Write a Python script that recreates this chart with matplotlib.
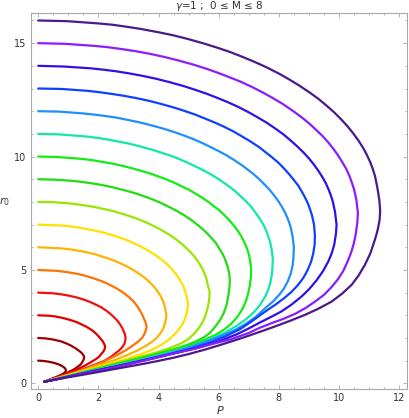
import numpy as np
import matplotlib.pyplot as plt
from matplotlib.ticker import MultipleLocator

# mass values of the 16 curves (gamma = 1)
m_values = [0.5, 1.0, 1.5, 2.0, 2.5, 3.0, 3.5, 4.0, 4.5, 5.0, 5.5, 6.0, 6.5, 7.0, 7.5, 8.0]
colors = ['#8b0000', '#9e0000', '#e00000', '#f01010', '#ff7300', '#ffb300', '#ffe000', '#99e600',
          '#22dd11', '#11ee11', '#10e8a8', '#1e8fff', '#1040ff', '#3010e8', '#8a1cff', '#4b1a8a']

# points, from the top (P=0, r0=2M) round the tip to the common end near the origin
p_05 = [0.0, 0.15, 0.32, 0.5, 0.65, 0.72, 0.78, 0.83, 0.87, 0.9, 0.92, 0.92, 0.91, 0.88, 0.85, 0.8, 0.74, 0.6,
        0.45, 0.32, 0.2]
r_05 = [1.0, 0.99, 0.96, 0.91, 0.85, 0.81, 0.77, 0.73, 0.69, 0.65, 0.6, 0.56, 0.52, 0.48, 0.44, 0.4, 0.36, 0.28,
        0.2, 0.13, 0.07]

p_10 = [0.0, 0.25, 0.5, 0.76, 0.97, 1.08, 1.17, 1.26, 1.33, 1.4, 1.45, 1.49, 1.52, 1.53, 1.51, 1.48, 1.45, 1.4,
        1.33, 1.26, 1.18, 1.0, 0.8, 0.6, 0.4, 0.2]
r_10 = [2.0, 1.98, 1.93, 1.85, 1.74, 1.67, 1.6, 1.53, 1.46, 1.39, 1.33, 1.26, 1.2, 1.12, 1.05, 0.97, 0.9, 0.82,
        0.75, 0.68, 0.61, 0.49, 0.37, 0.26, 0.16, 0.07]

p_15 = [0.0, 0.37, 0.56, 0.75, 0.94, 1.12, 1.28, 1.42, 1.58, 1.72, 1.84, 1.93, 2.01, 2.07, 2.13, 2.17, 2.2, 2.22,
        2.22, 2.2, 2.16, 2.1, 2.02, 1.92, 1.8, 1.55, 1.3, 1.0, 0.7, 0.45, 0.2]
r_15 = [3.0, 2.98, 2.95, 2.9, 2.84, 2.77, 2.7, 2.61, 2.51, 2.4, 2.29, 2.18, 2.07, 1.97, 1.88, 1.8, 1.72, 1.65,
        1.56, 1.48, 1.39, 1.3, 1.17, 1.07, 0.97, 0.78, 0.62, 0.45, 0.3, 0.18, 0.07]

p_20 = [0.0, 0.5, 0.74, 1.0, 1.24, 1.5, 1.7, 1.9, 2.1, 2.27, 2.41, 2.53, 2.64, 2.72, 2.79, 2.84, 2.88, 2.9, 2.9,
        2.88, 2.84, 2.78, 2.7, 2.6, 2.45, 2.2, 1.9, 1.5, 1.0, 0.6, 0.2]
r_20 = [4.0, 3.97, 3.93, 3.87, 3.8, 3.7, 3.6, 3.48, 3.35, 3.2, 3.05, 2.9, 2.75, 2.6, 2.45, 2.3, 2.17, 2.05, 1.93,
        1.8, 1.68, 1.57, 1.46, 1.36, 1.2, 0.99, 0.83, 0.63, 0.42, 0.24, 0.07]

p_25 = [0.0, 0.62, 0.93, 1.25, 1.55, 1.87, 2.12, 2.37, 2.6, 2.83, 3.0, 3.15, 3.27, 3.37, 3.45, 3.51, 3.56, 3.59,
        3.6, 3.58, 3.53, 3.45, 3.33, 3.15, 2.9, 2.6, 2.3, 2.0, 1.5, 1.0, 0.6, 0.2]
r_25 = [5.0, 4.96, 4.91, 4.84, 4.75, 4.62, 4.5, 4.35, 4.19, 4.0, 3.82, 3.64, 3.44, 3.24, 3.05, 2.87, 2.72, 2.6,
        2.48, 2.35, 2.17, 2.0, 1.85, 1.67, 1.45, 1.23, 1.04, 0.85, 0.6, 0.38, 0.22, 0.07]

p_30 = [0.0, 0.75, 1.11, 1.5, 1.86, 2.25, 2.55, 2.85, 3.12, 3.39, 3.6, 3.78, 3.93, 4.05, 4.14, 4.2, 4.23, 4.26,
        4.25, 4.21, 4.15, 4.06, 3.95, 3.8, 3.58, 3.3, 3.0, 2.6, 2.0, 1.5, 1.0, 0.6, 0.2]
r_30 = [6.0, 5.95, 5.9, 5.81, 5.7, 5.54, 5.4, 5.22, 5.03, 4.8, 4.59, 4.36, 4.13, 3.89, 3.66, 3.42, 3.23, 3.05,
        2.85, 2.62, 2.4, 2.2, 2.02, 1.85, 1.65, 1.45, 1.27, 1.05, 0.79, 0.57, 0.37, 0.22, 0.07]

p_35 = [0.0, 0.87, 1.3, 1.75, 2.17, 2.62, 2.97, 3.32, 3.64, 3.96, 4.2, 4.41, 4.58, 4.72, 4.83, 4.9, 4.94, 4.98,
        4.97, 4.93, 4.86, 4.77, 4.65, 4.5, 4.3, 4.05, 3.75, 3.4, 3.0, 2.5, 2.0, 1.5, 1.0, 0.6, 0.2]
r_35 = [7.0, 6.95, 6.88, 6.77, 6.65, 6.47, 6.3, 6.09, 5.87, 5.6, 5.35, 5.09, 4.82, 4.54, 4.27, 4.0, 3.77, 3.55,
        3.3, 3.05, 2.78, 2.55, 2.33, 2.12, 1.88, 1.66, 1.46, 1.28, 1.1, 0.9, 0.72, 0.54, 0.35, 0.21, 0.07]

p_40 = [0.0, 0.48, 1.0, 1.24, 1.48, 1.72, 2.0, 2.24, 2.48, 2.76, 3.0, 3.2, 3.4, 3.6, 3.8, 4.0, 4.16, 4.34, 4.52,
        4.66, 4.8, 4.92, 5.04, 5.14, 5.24, 5.32, 5.4, 5.46, 5.52, 5.56, 5.6, 5.64, 5.7,
        5.69, 5.67, 5.62, 5.55, 5.45, 5.32, 5.17, 5.0, 4.75, 4.35, 3.8, 3.2, 2.6, 2.0, 1.5, 1.0, 0.6, 0.2]
r_40 = [8.0, 7.99, 7.94, 7.9, 7.86, 7.81, 7.74, 7.67, 7.6, 7.49, 7.39, 7.3, 7.2, 7.09, 6.96, 6.83, 6.71, 6.57,
        6.41, 6.27, 6.12, 5.97, 5.82, 5.67, 5.51, 5.36, 5.19, 5.05, 4.87, 4.74, 4.57, 4.31, 4.05,
        3.78, 3.55, 3.25, 2.95, 2.66, 2.4, 2.17, 1.96, 1.76, 1.54, 1.31, 1.11, 0.9, 0.69, 0.52, 0.34, 0.2, 0.07]

p_45 = [0.0, 0.54, 1.12, 1.4, 1.66, 1.93, 2.25, 2.52, 2.79, 3.1, 3.37, 3.6, 3.82, 4.05, 4.27, 4.5, 4.68, 4.88,
        5.08, 5.24, 5.4, 5.53, 5.67, 5.78, 5.9, 5.98, 6.07, 6.14, 6.21, 6.25, 6.3, 6.35, 6.37,
        6.36, 6.32, 6.26, 6.17, 6.05, 5.9, 5.71, 5.5, 5.25, 4.95, 4.6, 4.2, 3.8, 3.2, 2.6, 2.0, 1.5, 1.0, 0.6, 0.2]
r_45 = [9.0, 8.98, 8.93, 8.89, 8.84, 8.79, 8.71, 8.63, 8.54, 8.43, 8.32, 8.21, 8.1, 7.97, 7.83, 7.68, 7.55, 7.39,
        7.21, 7.05, 6.88, 6.72, 6.54, 6.38, 6.2, 6.03, 5.84, 5.68, 5.48, 5.33, 5.13, 4.85, 4.6,
        4.25, 3.85, 3.45, 3.1, 2.8, 2.52, 2.22, 2.02, 1.85, 1.69, 1.54, 1.39, 1.25, 1.05, 0.85, 0.65, 0.49, 0.32,
        0.19, 0.07]

p_50 = [0.0, 0.6, 1.25, 1.55, 1.85, 2.15, 2.5, 2.8, 3.1, 3.45, 3.75, 4.0, 4.25, 4.5, 4.75, 5.0, 5.2, 5.42, 5.65,
        5.82, 6.0, 6.15, 6.3, 6.42, 6.55, 6.65, 6.75, 6.82, 6.9, 6.95, 7.0, 7.05, 7.08,
        7.07, 7.04, 6.98, 6.9, 6.78, 6.62, 6.42, 6.18, 5.9, 5.5, 5.0, 4.4, 3.8, 3.2, 2.6, 2.0, 1.5, 1.0, 0.6, 0.2]
r_50 = [10.0, 9.98, 9.92, 9.88, 9.83, 9.76, 9.68, 9.59, 9.49, 9.36, 9.24, 9.12, 9.0, 8.86, 8.7, 8.54, 8.39, 8.21,
        8.01, 7.83, 7.65, 7.47, 7.27, 7.09, 6.88, 6.7, 6.49, 6.31, 6.09, 5.92, 5.71, 5.39, 5.0,
        4.68, 4.35, 3.95, 3.6, 3.25, 2.93, 2.63, 2.37, 2.14, 1.9, 1.64, 1.41, 1.19, 0.99, 0.81, 0.62, 0.47, 0.31,
        0.19, 0.07]

p_55 = [0.0, 0.66, 1.37, 1.7, 2.03, 2.36, 2.75, 3.08, 3.41, 3.79, 4.12, 4.4, 4.67, 4.95, 5.22, 5.5, 5.72, 5.97,
        6.21, 6.41, 6.6, 6.76, 6.93, 7.07, 7.2, 7.31, 7.42, 7.51, 7.59, 7.64, 7.7, 7.76, 7.8,
        7.79, 7.77, 7.72, 7.64, 7.53, 7.38, 7.18, 6.93, 6.62, 6.22, 5.75, 5.2, 4.6, 4.0, 3.4, 2.8, 2.2, 1.6, 1.0,
        0.6, 0.2]
r_55 = [11.0, 10.98, 10.91, 10.87, 10.81, 10.74, 10.64, 10.55, 10.44, 10.3, 10.16, 10.04, 9.9, 9.74, 9.57, 9.39,
        9.23, 9.03, 8.81, 8.62, 8.41, 8.21, 8.0, 7.8, 7.57, 7.37, 7.14, 6.94, 6.7, 6.51, 6.28, 5.92, 5.5,
        5.15, 4.8, 4.45, 4.1, 3.78, 3.47, 3.15, 2.85, 2.55, 2.24, 1.96, 1.68, 1.44, 1.23, 1.03, 0.85, 0.67, 0.49,
        0.31, 0.18, 0.07]

p_60 = [0.0, 0.72, 1.5, 1.86, 2.22, 2.58, 3.0, 3.36, 3.72, 4.14, 4.5, 4.8, 5.1, 5.4, 5.7, 6.0, 6.24, 6.51, 6.78,
        6.99, 7.2, 7.38, 7.56, 7.71, 7.86, 7.98, 8.1, 8.19, 8.28, 8.34, 8.4, 8.46, 8.5,
        8.49, 8.46, 8.4, 8.3, 8.17, 8.0, 7.8, 7.55, 7.25, 6.9, 6.5, 6.0, 5.5, 5.0, 4.4, 3.8, 3.2, 2.6, 2.0, 1.5,
        1.0, 0.6, 0.2]
r_60 = [12.0, 11.98, 11.9, 11.85, 11.79, 11.72, 11.61, 11.51, 11.39, 11.24, 11.09, 10.95, 10.8, 10.63, 10.44,
        10.24, 10.07, 9.85, 9.61, 9.4, 9.18, 8.96, 8.72, 8.51, 8.26, 8.04, 7.79, 7.57, 7.31, 7.11, 6.85, 6.46, 6.0,
        5.6, 5.2, 4.85, 4.5, 4.18, 3.88, 3.6, 3.32, 2.95, 2.62, 2.32, 2.05, 1.8, 1.57, 1.34, 1.13, 0.94, 0.76,
        0.59, 0.45, 0.3, 0.18, 0.07]

p_65 = [0.0, 0.78, 1.62, 2.02, 2.4, 2.8, 3.25, 3.64, 4.03, 4.49, 4.87, 5.2, 5.52, 5.85, 6.17, 6.5, 6.76, 7.05,
        7.35, 7.57, 7.8, 8.0, 8.19, 8.35, 8.51, 8.65, 8.77, 8.87, 8.97, 9.03, 9.1, 9.17, 9.2,
        9.19, 9.14, 9.07, 8.96, 8.82, 8.64, 8.42, 8.18, 7.9, 7.54, 7.15, 6.7, 6.2, 5.7, 5.1, 4.5, 3.9, 3.3, 2.7,
        2.0, 1.5, 1.0, 0.6, 0.2]
r_65 = [13.0, 12.98, 12.9, 12.84, 12.77, 12.69, 12.58, 12.47, 12.34, 12.17, 12.01, 11.86, 11.69, 11.51, 11.32,
        11.1, 10.9, 10.67, 10.41, 10.18, 9.94, 9.71, 9.45, 9.21, 8.95, 8.71, 8.44, 8.2, 7.92, 7.7, 7.42, 7.0, 6.5,
        6.1, 5.7, 5.35, 5.0, 4.66, 4.34, 4.03, 3.76, 3.48, 3.16, 2.78, 2.38, 2.06, 1.8, 1.53, 1.32, 1.12, 0.94,
        0.77, 0.59, 0.45, 0.3, 0.18, 0.07]

p_70 = [0.0, 0.84, 1.75, 2.17, 2.59, 3.01, 3.5, 3.92, 4.34, 4.83, 5.25, 5.6, 5.95, 6.3, 6.65, 7.0, 7.28, 7.6,
        7.91, 8.16, 8.4, 8.61, 8.82, 9.0, 9.17, 9.31, 9.45, 9.56, 9.66, 9.73, 9.8, 9.87, 9.92,
        9.9, 9.84, 9.75, 9.64, 9.47, 9.26, 9.02, 8.75, 8.43, 8.1, 7.76, 7.4, 7.0, 6.6, 6.0, 5.4, 4.7, 4.0, 3.3,
        2.6, 2.0, 1.5, 1.0, 0.6, 0.2]
r_70 = [14.0, 13.97, 13.89, 13.83, 13.76, 13.67, 13.55, 13.43, 13.29, 13.11, 12.93, 12.77, 12.59, 12.4, 12.19,
        11.95, 11.74, 11.49, 11.21, 10.97, 10.7, 10.45, 10.18, 9.92, 9.64, 9.38, 9.09, 8.83, 8.53, 8.29, 7.99,
        7.54, 7.0,
        6.6, 6.1, 5.7, 5.36, 4.95, 4.55, 4.17, 3.82, 3.48, 3.18, 2.94, 2.7, 2.42, 2.16, 1.85, 1.6, 1.38, 1.17,
        0.96, 0.75, 0.58, 0.44, 0.29, 0.17, 0.07]

p_75 = [0.0, 0.9, 1.87, 2.32, 2.77, 3.22, 3.75, 4.2, 4.65, 5.17, 5.62, 6.0, 6.37, 6.75, 7.12, 7.5, 7.8, 8.14,
        8.47, 8.74, 9.0, 9.22, 9.45, 9.64, 9.82, 9.97, 10.12, 10.24, 10.35, 10.42, 10.5, 10.58, 10.63,
        10.61, 10.56, 10.49, 10.4, 10.28, 10.14, 9.96, 9.75, 9.5, 9.2, 8.9, 8.55, 8.15, 7.75, 7.35, 7.0, 6.4,
        5.8, 5.1, 4.4, 3.7, 3.0, 2.4, 1.8, 1.3, 0.8, 0.2]
r_75 = [15.0, 14.97, 14.88, 14.82, 14.74, 14.65, 14.52, 14.39, 14.24, 14.05, 13.86, 13.68, 13.49, 13.29, 13.06,
        12.8, 12.58, 12.31, 12.01, 11.75, 11.47, 11.2, 10.91, 10.63, 10.33, 10.05, 9.73, 9.46, 9.14, 8.88, 8.56,
        8.08, 7.5,
        7.1, 6.6, 6.15, 5.75, 5.35, 4.95, 4.58, 4.24, 3.9, 3.6, 3.33, 3.07, 2.84, 2.65, 2.44, 2.22, 1.94, 1.74,
        1.49, 1.28, 1.06, 0.84, 0.66, 0.5, 0.37, 0.23, 0.07]

p_80 = [0.0, 0.96, 2.0, 2.48, 2.96, 3.44, 4.0, 4.48, 4.96, 5.52, 6.0, 6.4, 6.8, 7.2, 7.6, 8.0, 8.32, 8.68, 9.04,
        9.32, 9.6, 9.84, 10.08, 10.28, 10.48, 10.64, 10.8, 10.92, 11.04, 11.12, 11.2, 11.28, 11.34, 11.37,
        11.35, 11.3, 11.25, 11.19, 11.05, 10.86, 10.65, 10.42, 10.1, 9.75, 9.3, 8.87, 8.4, 7.98, 7.54, 7.0, 6.5,
        6.0, 5.5, 5.0, 4.5, 4.0, 3.5, 3.0, 2.5, 2.0, 1.5, 1.0, 0.5, 0.2]
r_80 = [16.0, 15.97, 15.87, 15.81, 15.72, 15.62, 15.48, 15.35, 15.19, 14.98, 14.78, 14.6, 14.39, 14.17, 13.93,
        13.66, 13.42, 13.13, 12.81, 12.54, 12.23, 11.95, 11.63, 11.34, 11.01, 10.72, 10.39, 10.09, 9.75, 9.47,
        9.13, 8.6, 8.1, 7.6,
        7.2, 6.85, 6.58, 6.32, 5.75, 5.22, 4.75, 4.34, 3.95, 3.6, 3.28, 3.02, 2.77, 2.56, 2.35, 2.1, 1.88, 1.67,
        1.47, 1.29, 1.13, 0.99, 0.86, 0.74, 0.62, 0.5, 0.38, 0.27, 0.15, 0.07]

curves_p = [p_05, p_10, p_15, p_20, p_25, p_30, p_35, p_40, p_45, p_50, p_55, p_60, p_65, p_70, p_75, p_80]
curves_r = [r_05, r_10, r_15, r_20, r_25, r_30, r_35, r_40, r_45, r_50, r_55, r_60, r_65, r_70, r_75, r_80]

fig = plt.figure(figsize=(4.09, 4.18), dpi=100)
ax = fig.add_axes([0.075, 0.0694, 0.92, 0.9006])

for p, r, c in zip(curves_p, curves_r, colors):
    ax.plot(p, r, color=c, lw=1.6, solid_joinstyle='round', solid_capstyle='round')

ax.set_xlim(-0.25, 12.26)
ax.set_ylim(-0.25, 16.35)
ax.xaxis.set_major_locator(MultipleLocator(2))
ax.xaxis.set_minor_locator(MultipleLocator(0.5))
ax.yaxis.set_major_locator(MultipleLocator(5))
ax.yaxis.set_minor_locator(MultipleLocator(1))

frame = '#a8a8a8'
for s in ax.spines.values():
    s.set_color(frame)
    s.set_linewidth(0.8)
ax.tick_params(which='both', direction='in', top=True, right=True, color=frame,
               labelcolor='#333333', labelsize=7, width=0.6, pad=3)
ax.tick_params(which='major', length=3.2)
ax.tick_params(which='minor', length=1.7)

fig.text(0.537, 0.9856, r'$\gamma$=1 ;  0 ≤ M ≤ 8', ha='center', va='center', fontsize=7.5, color='#333333')
fig.text(0.538, 0.004, r'$P$', ha='center', va='bottom', fontsize=8, color='#333333')
fig.text(0.012, 0.5175, r'$r_0$', ha='center', va='center', fontsize=8, color='#333333')

plt.savefig('out.png', dpi=100)
